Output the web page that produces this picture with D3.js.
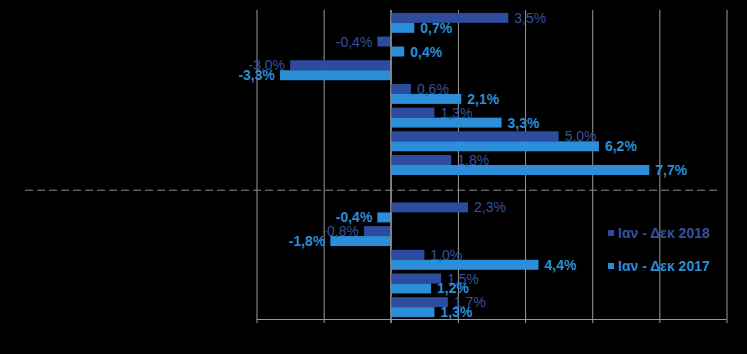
<!DOCTYPE html>
<html>
<head>
<meta charset="utf-8">
<script src="https://cdn.jsdelivr.net/npm/d3@7"></script>
<style>
  html, body { margin: 0; padding: 0; background: #000; }
  text { font-family: "Liberation Sans", Arial, sans-serif; }
</style>
</head>
<body>
<div id="chart"></div>
<script>
// Categories (labels are not shown in the picture); "gap" is the empty separator row
const categories = ["c1", "c2", "c3", "c4", "c5", "c6", "c7", "gap", "c8", "c9", "c10", "c11", "c12"];
const seriesNames = ["Ιαν - Δεκ 2018", "Ιαν - Δεκ 2017"];
const values2018 = [3.5, -0.4, -3.0, 0.6, 1.3, 5.0, 1.8, null, 2.3, -0.8, 1.0, 1.5, 1.7];
const values2017 = [0.7, 0.4, -3.3, 2.1, 3.3, 6.2, 7.7, null, -0.4, -1.8, 4.4, 1.2, 1.3];
const xTicks = [-4, -2, 0, 2, 4, 6, 8, 10];

const barColors = ["#2d4c9e", "#2a8ed8"];
const labelColors = ["#34529f", "#2b8ed6"];
const labelWeights = ["normal", "bold"];

const W = 747, H = 354;
const plotTop = 11, plotBottom = 319;

const svg = d3.select("#chart")
    .append("svg")
    .attr("width", W)
    .attr("height", H)
    .style("background", "#000");

// Scales
const x = d3.scaleLinear()
    .domain([-4, 10])
    .range([256.5, 726.5]);

const y = d3.scaleBand()
    .domain(categories)
    .range([plotTop, plotBottom]);

const sub = d3.scaleBand()
    .domain(seriesNames)
    .range([0, y.bandwidth()])
    .paddingOuter(0.1875);

// Vertical gridlines
svg.append("g")
    .attr("transform", `translate(0,${plotBottom})`)
    .call(d3.axisBottom(x).tickValues(xTicks).tickSize(4).tickFormat(""))
    .call(g => g.select(".domain").attr("stroke", "#9a9a9a").attr("d", `M${x(-4)},0.5H${x(10)}`))
    .call(g => g.selectAll(".tick line")
        .attr("stroke", "#9a9a9a")
        .attr("y1", -(plotBottom - 10)));

// Dashed separator line
svg.append("line")
    .attr("x1", 25)
    .attr("x2", 720)
    .attr("y1", y("gap") + y.bandwidth() / 2 + 1.5)
    .attr("y2", y("gap") + y.bandwidth() / 2 + 1.5)
    .attr("stroke", "#8a8a8a")
    .attr("stroke-width", 1)
    .attr("stroke-dasharray", "8,4");

// Build rows for each series
const rows = [];
categories.forEach((c, i) => {
    [values2018, values2017].forEach((vals, s) => {
        if (vals[i] !== null) rows.push({ cat: c, s: s, v: vals[i] });
    });
});

// Bars
svg.selectAll("rect.bar")
    .data(rows)
    .enter()
    .append("rect")
    .attr("class", "bar")
    .attr("x", d => x(Math.min(0, d.v)))
    .attr("y", d => y(d.cat) + sub(seriesNames[d.s]))
    .attr("width", d => Math.abs(x(d.v) - x(0)))
    .attr("height", sub.bandwidth())
    .attr("fill", d => barColors[d.s]);

// Zero line over bars
svg.append("line")
    .attr("x1", x(0)).attr("x2", x(0))
    .attr("y1", plotTop - 1).attr("y2", plotBottom + 4)
    .attr("stroke", "#9a9a9a");

// Value labels
const fmt = v => v.toFixed(1).replace(".", ",") + "%";
svg.selectAll("text.val")
    .data(rows)
    .enter()
    .append("text")
    .attr("class", "val")
    .attr("x", d => d.v >= 0 ? x(d.v) + 6 : x(d.v) - 5)
    .attr("y", d => y(d.cat) + sub(seriesNames[d.s]) + sub.bandwidth() / 2)
    .attr("dy", "0.36em")
    .attr("text-anchor", d => d.v >= 0 ? "start" : "end")
    .attr("fill", d => labelColors[d.s])
    .style("font-size", "14px")
    .style("font-weight", d => labelWeights[d.s])
    .text(d => fmt(d.v));

// Legend
const legend = svg.append("g")
    .selectAll("g")
    .data(seriesNames)
    .enter()
    .append("g")
    .attr("transform", (d, i) => `translate(608,${233 + i * 33})`);

legend.append("rect")
    .attr("x", 0)
    .attr("y", -3)
    .attr("width", 6)
    .attr("height", 6)
    .attr("fill", (d, i) => barColors[i]);

legend.append("text")
    .attr("x", 10)
    .attr("dy", "0.36em")
    .attr("fill", (d, i) => labelColors[i])
    .style("font-size", "14px")
    .style("font-weight", "bold")
    .text(d => d);
</script>
</body>
</html>
